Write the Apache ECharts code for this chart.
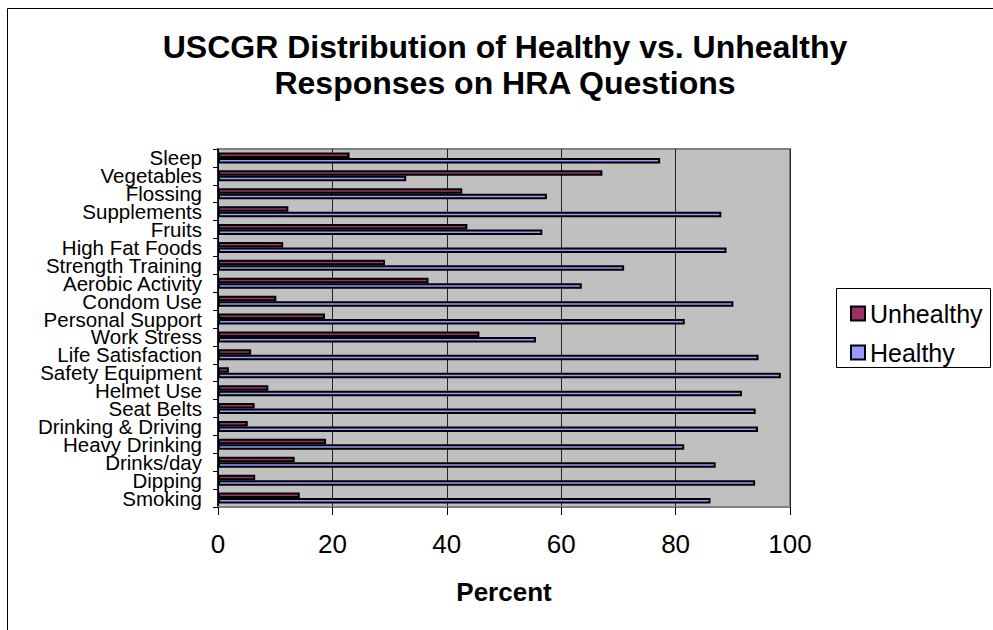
<!DOCTYPE html>
<html>
<head>
<meta charset="utf-8">
<script src="https://cdn.jsdelivr.net/npm/echarts@6/dist/echarts.min.js"></script>
<style>
html,body{margin:0;padding:0;background:#fff;}
#chart{width:993px;height:630px;}
</style>
</head>
<body>
<div id="chart"></div>
<script>
var categories = ['Smoking','Dipping','Drinks/day','Heavy Drinking','Drinking & Driving','Seat Belts','Helmet Use','Safety Equipment','Life Satisfaction','Work Stress','Personal Support','Condom Use','Aerobic Activity','Strength Training','High Fat Foods','Fruits','Supplements','Flossing','Vegetables','Sleep'];
var unhealthy = [14.3, 6.5, 13.4, 18.9, 5.2, 6.4, 8.8, 1.9, 5.8, 45.7, 18.7, 10.2, 36.8, 29.2, 11.4, 43.6, 12.3, 42.7, 67.2, 23.0];
var healthy = [86.1, 93.9, 87.0, 81.5, 94.4, 94.0, 91.6, 98.4, 94.5, 55.6, 81.6, 90.1, 63.6, 71.0, 88.9, 56.7, 88.0, 57.5, 32.9, 77.3];
var xTicks = [0, 20, 40, 60, 80, 100];
var titleLines = ['USCGR Distribution of Healthy vs. Unhealthy', 'Responses on HRA Questions'];
var seriesNames = ['Unhealthy', 'Healthy'];

var FONT = '"Liberation Sans", Arial, sans-serif';
var chart = echarts.init(document.getElementById('chart'), null, {renderer: 'svg'});
chart.setOption({
  backgroundColor: '#ffffff',
  animation: false,
  graphic: [
    {type: 'rect', shape: {x: 7.5, y: 8.5, width: 1000, height: 700}, style: {fill: 'none', stroke: '#000', lineWidth: 1}, silent: true},
    {type: 'rect', shape: {x: 836.5, y: 288.5, width: 154, height: 79}, style: {fill: 'none', stroke: '#000', lineWidth: 1}, silent: true},
    {type: 'text', x: 505, y: 29, style: {text: titleLines.join('\n'), fontFamily: FONT, fontSize: 32, fontWeight: 'bold', fill: '#000', align: 'center', verticalAlign: 'top', lineHeight: 36}}
  ],
  legend: {
    data: seriesNames,
    orient: 'vertical',
    left: 845,
    top: 296,
    itemWidth: 14,
    itemHeight: 14,
    itemGap: 14,
    icon: 'rect',
    itemStyle: {borderColor: '#000', borderWidth: 2},
    textStyle: {fontFamily: FONT, fontSize: 25, color: '#000'}
  },
  grid: {
    left: 218, right: 203, top: 149, bottom: 123,
    show: true, backgroundColor: '#C0C0C0', borderColor: '#808080', borderWidth: 2,
    containLabel: false
  },
  xAxis: {
    type: 'value', min: 0, max: 100, interval: 20,
    name: 'Percent', nameLocation: 'middle', nameGap: 72,
    nameTextStyle: {fontFamily: FONT, fontSize: 26, fontWeight: 'bold', color: '#000'},
    axisLine: {show: true, lineStyle: {color: '#808080', width: 2}},
    axisTick: {show: true, length: 8, lineStyle: {color: '#000'}},
    axisLabel: {fontFamily: FONT, fontSize: 26, color: '#000', margin: 24,
      formatter: function (v) { return xTicks.indexOf(v) >= 0 ? String(v) : ''; }},
    splitLine: {show: true, lineStyle: {color: '#222', width: 1}}
  },
  yAxis: {
    type: 'category', data: categories,
    axisLine: {show: true, lineStyle: {color: '#000', width: 1.5}},
    axisTick: {show: true, length: 5, alignWithLabel: false, lineStyle: {color: '#000'}},
    axisLabel: {fontFamily: FONT, fontSize: 20.5, color: '#000', margin: 16, interval: 0, lineHeight: 18},
    splitLine: {show: false}
  },
  series: [
    {name: 'Unhealthy', type: 'bar', data: unhealthy, barWidth: 5.5, barGap: '0%',
     itemStyle: {color: '#993366', borderColor: '#000', borderWidth: 2}},
    {name: 'Healthy', type: 'bar', data: healthy, barWidth: 5.5, barGap: '0%',
     itemStyle: {color: '#9999FF', borderColor: '#000', borderWidth: 2}}
  ]
});
</script>
</body>
</html>
